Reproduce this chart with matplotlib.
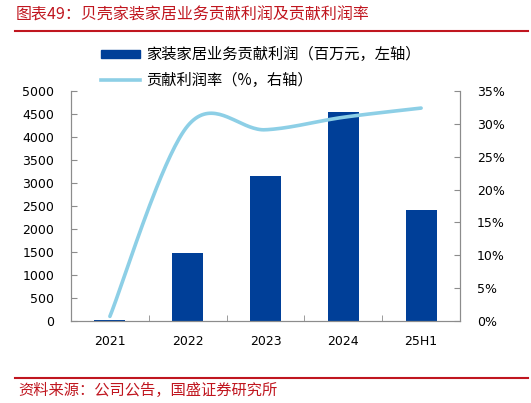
import numpy as np
import matplotlib
matplotlib.use("Agg")
import matplotlib.pyplot as plt
from matplotlib.lines import Line2D
from matplotlib.patches import Patch

plt.rcParams['font.family'] = ['Noto Sans CJK SC', 'DejaVu Sans']

categories = ["2021", "2022", "2023", "2024", "25H1"]
profit = [20, 1480, 3150, 4540, 2410]          # 百万元
margin = [0.7, 29.7, 29.1, 31.0, 32.4]          # %

bar_color = "#003F98"
line_color = "#8DCFE6"
red = "#C0161F"
grey = "#8C8C8C"


def smooth(xs, ys, n=40):
    # Excel-style smoothed line (Catmull-Rom Bezier segments)
    pts = np.column_stack([xs, ys]).astype(float)
    out = []
    for i in range(len(pts) - 1):
        p0 = pts[i - 1] if i > 0 else pts[i]
        p1, p2 = pts[i], pts[i + 1]
        p3 = pts[i + 2] if i + 2 < len(pts) else pts[i + 1]
        c1 = p1 + (p2 - p0) / 6
        c2 = p2 - (p3 - p1) / 6
        t = np.linspace(0, 1, n)[:, None]
        seg = ((1 - t) ** 3) * p1 + 3 * ((1 - t) ** 2) * t * c1 + 3 * (1 - t) * t ** 2 * c2 + t ** 3 * p2
        out.append(seg)
    seg = np.vstack(out)
    return seg[:, 0], seg[:, 1]


fig = plt.figure(figsize=(5.31, 4.03), dpi=100)
ax = fig.add_axes([0.1337, 0.2035, 0.7326, 0.5707])
ax2 = ax.twinx()

x = np.arange(len(categories))
ax.bar(x, profit, width=0.4, color=bar_color, zorder=2)
sx, sy = smooth(x, margin)
ax2.plot(sx, sy, color=line_color, lw=2.6, solid_capstyle='round', zorder=3)

ax.set_xlim(-0.5, len(categories) - 0.5)
ax.set_ylim(0, 5000)
ax.set_yticks(np.arange(0, 5001, 500))
ax2.set_ylim(0, 35)
ax2.set_yticks(np.arange(0, 36, 5))
ax2.set_yticklabels([f"{v}%" for v in range(0, 36, 5)])

ax.set_xticks(x)
ax.set_xticklabels(categories, fontfamily='DejaVu Sans')
ax.set_xticks(np.arange(0.5, len(categories) - 0.5, 1), minor=True)
ax.tick_params(axis='x', which='major', length=0, pad=10, labelsize=9)
ax.tick_params(axis='x', which='minor', direction='in', length=4, color=grey)
ax.tick_params(axis='y', direction='in', length=4, color=grey, labelsize=9, pad=12)
ax2.tick_params(axis='y', direction='in', length=4, color=grey, labelsize=9, pad=12)
for lab in ax.get_yticklabels() + ax2.get_yticklabels():
    lab.set_fontfamily('DejaVu Sans')

for a in (ax, ax2):
    a.spines['top'].set_visible(False)
    for s in ('left', 'right', 'bottom'):
        a.spines[s].set_color(grey)
        a.spines[s].set_linewidth(0.8)
ax.set_zorder(ax2.get_zorder() - 1)
ax.patch.set_visible(False)

handles = [Patch(color=bar_color), Line2D([0], [0], color=line_color, lw=2.6)]
labels = ["家装家居业务贡献利润（百万元，左轴）", "贡献利润率（%，右轴）"]
fig.legend(handles, labels, loc='upper left', bbox_to_anchor=(0.178, 0.9),
           frameon=False, fontsize=11, handlelength=2.6, handleheight=0.45,
           handletextpad=0.4, labelspacing=0.55, borderaxespad=0)

fig.text(0.03, 0.962, "图表49：贝壳家装家居业务贡献利润及贡献利润率", color=red,
         fontsize=11.5, style='italic', va='center')
fig.add_artist(Line2D([0.028, 0.995], [0.923, 0.923], color=red, lw=1.5))
fig.add_artist(Line2D([0.028, 0.995], [0.063, 0.063], color=red, lw=1.5))
fig.text(0.035, 0.03, "资料来源：公司公告，国盛证券研究所", color=red,
         fontsize=11, style='italic', va='center')

fig.savefig("out.png", dpi=100)
